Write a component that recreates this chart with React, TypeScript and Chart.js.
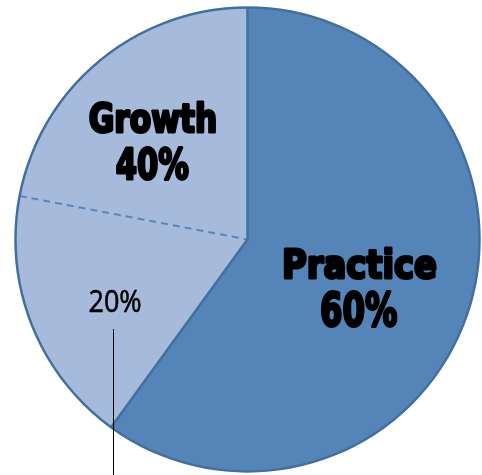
import { useEffect, useRef } from "react";
import { Chart, registerables } from "chart.js";

Chart.register(...registerables);

// ---- data ----
const categories = ["Practice", "Growth (lower part)", "Growth (upper part)"];
const values = [60, 18, 22];
const sliceColors = ["#5585b8", "#a6badc", "#a6badc"];
const mainLabels = ["Practice", "Growth"];
const mainPercents = ["60%", "40%"];
const subLabel = "20%";

const BORDER = "#41709f";
const DASH = "#5a87b9";

function drawFitted(
  ctx: CanvasRenderingContext2D,
  text: string,
  cx: number,
  baseline: number,
  width: number,
  height: number,
  weight: string,
  family: string,
  stroke: number
) {
  ctx.save();
  ctx.font = `${weight} 100px ${family}`;
  const m0 = ctx.measureText(text);
  const asc = m0.actualBoundingBoxAscent || 72;
  const size = (100 * (height - stroke)) / asc;
  ctx.font = `${weight} ${size}px ${family}`;
  const m = ctx.measureText(text);
  const inkW = (m.actualBoundingBoxLeft + m.actualBoundingBoxRight) || m.width;
  const sx = (width - stroke) / inkW;
  ctx.translate(cx, baseline - stroke / 2);
  ctx.scale(sx, 1);
  ctx.textAlign = "left";
  ctx.textBaseline = "alphabetic";
  const x0 = -(inkW / 2) + m.actualBoundingBoxLeft;
  ctx.fillStyle = "#000";
  ctx.fillText(text, x0, 0);
  if (stroke > 0) {
    ctx.strokeStyle = "#000";
    ctx.lineWidth = stroke;
    ctx.lineJoin = "round";
    ctx.strokeText(text, x0, 0);
  }
  ctx.restore();
}

const overlay = {
  id: "overlay",
  afterDatasetsDraw(chart: any) {
    const ctx: CanvasRenderingContext2D = chart.ctx;
    const arcs = chart.getDatasetMeta(0).data as any[];
    const a0 = arcs[0];
    const cx = a0.x;
    const cy = a0.y;
    const r = a0.outerRadius;
    ctx.save();
    // dashed divider inside Growth
    const dAng = arcs[1].endAngle;
    ctx.setLineDash([7, 5]);
    ctx.strokeStyle = DASH;
    ctx.lineWidth = 2;
    ctx.beginPath();
    ctx.moveTo(cx + r * Math.cos(dAng), cy + r * Math.sin(dAng));
    ctx.lineTo(cx, cy);
    ctx.stroke();
    ctx.setLineDash([]);
    // solid edges of Practice
    ctx.strokeStyle = BORDER;
    ctx.lineWidth = 2.5;
    ctx.lineJoin = "round";
    ctx.beginPath();
    ctx.moveTo(cx + r * Math.cos(a0.startAngle), cy + r * Math.sin(a0.startAngle));
    ctx.lineTo(cx, cy);
    ctx.lineTo(cx + r * Math.cos(a0.endAngle), cy + r * Math.sin(a0.endAngle));
    ctx.stroke();
    // outer outline
    ctx.beginPath();
    ctx.arc(cx, cy, r, 0, Math.PI * 2);
    ctx.stroke();

    // leader line for sub label
    ctx.strokeStyle = "#000";
    ctx.lineWidth = 1;
    ctx.beginPath();
    ctx.moveTo(cx - 134, cy + 89.5);
    ctx.lineTo(cx - 134, chart.height);
    ctx.stroke();

    const bold = "'DejaVu Sans', sans-serif";
    drawFitted(ctx, mainLabels[0], cx + 112.5, cy + 39.5, 154, 33, "bold", bold, 3);
    drawFitted(ctx, mainPercents[0], cx + 111.5, cy + 87.5, 78, 37, "bold", bold, 3);
    drawFitted(ctx, mainLabels[1], cx - 95, cy - 106.5, 129, 33, "bold", bold, 3);
    drawFitted(ctx, mainPercents[1], cx - 95, cy - 59.5, 75, 35, "bold", bold, 3);
    drawFitted(ctx, subLabel, cx - 132.5, cy + 72.5, 52, 24, "normal", "'Open Sans', sans-serif", 0.6);
    ctx.restore();
  },
};

export default function App() {
  const ref = useRef<HTMLCanvasElement | null>(null);
  useEffect(() => {
    if (!ref.current) return;
    const chart = new Chart(ref.current, {
      type: "pie",
      data: {
        labels: categories,
        datasets: [
          {
            data: values,
            backgroundColor: sliceColors,
            borderColor: sliceColors,
            borderWidth: 1,
          },
        ],
      },
      options: {
        responsive: false,
        animation: false,
        devicePixelRatio: 1,
        layout: { padding: { left: 15, right: 2, top: 7, bottom: 3 } },
        plugins: {
          legend: { display: false },
          tooltip: { enabled: false },
        },
      },
      plugins: [overlay],
    });
    return () => chart.destroy();
  }, []);
  return (
    <div style={{ position: "absolute", left: 0, top: 0, width: 482, height: 475, background: "#fff" }}>
      <canvas ref={ref} width={482} height={475} />
    </div>
  );
}
